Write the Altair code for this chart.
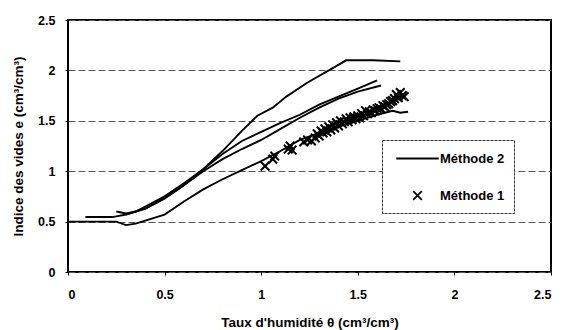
import altair as alt
import pandas as pd

# Méthode 2 curves (x = taux d'humidité, y = indice des vides)
curve_a_x = [0.09, 0.23, 0.30, 0.40, 0.50, 0.60, 0.70, 0.80, 0.90, 0.98, 1.06, 1.13, 1.24, 1.35, 1.44, 1.58, 1.72]
curve_a_y = [0.545, 0.545, 0.57, 0.63, 0.73, 0.86, 1.02, 1.20, 1.40, 1.55, 1.63, 1.74, 1.88, 2.00, 2.10, 2.10, 2.09]

curve_b_x = [0.25, 0.30, 0.35, 0.40, 0.50, 0.60, 0.70, 0.80, 0.90, 1.00, 1.10, 1.20, 1.30, 1.40, 1.50, 1.60]
curve_b_y = [0.60, 0.58, 0.60, 0.65, 0.75, 0.88, 1.02, 1.17, 1.30, 1.39, 1.48, 1.56, 1.66, 1.74, 1.82, 1.90]

curve_c_x = [0.30, 0.40, 0.50, 0.60, 0.70, 0.80, 0.90, 1.00, 1.10, 1.20, 1.30, 1.40, 1.50, 1.62]
curve_c_y = [0.57, 0.63, 0.73, 0.86, 1.00, 1.12, 1.22, 1.31, 1.42, 1.53, 1.63, 1.72, 1.79, 1.85]

curve_d_x = [0.00, 0.25, 0.30, 0.35, 0.40, 0.50, 0.60, 0.70, 0.80, 0.90, 1.00, 1.10, 1.20, 1.30, 1.40, 1.50, 1.60, 1.68, 1.72, 1.76]
curve_d_y = [0.50, 0.50, 0.465, 0.48, 0.51, 0.57, 0.70, 0.82, 0.92, 1.01, 1.10, 1.20, 1.31, 1.38, 1.44, 1.50, 1.56, 1.60, 1.58, 1.59]

# Méthode 1 points
m1_x = [1.02, 1.06, 1.07, 1.14, 1.15, 1.16, 1.22, 1.24, 1.26, 1.28, 1.29, 1.30, 1.31, 1.32, 1.33, 1.34,
        1.35, 1.36, 1.37, 1.38, 1.39, 1.40, 1.41, 1.42, 1.43, 1.44, 1.45, 1.46, 1.47, 1.48, 1.49, 1.50,
        1.51, 1.52, 1.53, 1.54, 1.55, 1.56, 1.57, 1.58, 1.59, 1.60, 1.61, 1.62, 1.63, 1.64, 1.65, 1.66,
        1.67, 1.68, 1.69, 1.70, 1.71, 1.72, 1.73, 1.74]
m1_y = [1.05, 1.12, 1.15, 1.22, 1.25, 1.21, 1.29, 1.31, 1.30, 1.33, 1.37, 1.35, 1.40, 1.38, 1.42, 1.39,
        1.44, 1.41, 1.46, 1.43, 1.48, 1.45, 1.50, 1.47, 1.49, 1.52, 1.49, 1.53, 1.51, 1.54, 1.52, 1.55,
        1.53, 1.57, 1.55, 1.60, 1.57, 1.59, 1.58, 1.61, 1.60, 1.62, 1.63, 1.62, 1.65, 1.64, 1.66, 1.67,
        1.69, 1.70, 1.72, 1.76, 1.73, 1.78, 1.75, 1.74]

legend_labels = ["Méthode 2", "Méthode 1"]
x_ticks = [0, 0.5, 1, 1.5, 2, 2.5]
y_ticks = [0, 0.5, 1, 1.5, 2, 2.5]

rows = []
for cid, xs, ys in [("A", curve_a_x, curve_a_y), ("B", curve_b_x, curve_b_y),
                    ("C", curve_c_x, curve_c_y), ("D", curve_d_x, curve_d_y)]:
    for i, (xv, yv) in enumerate(zip(xs, ys)):
        rows.append({"curve": cid, "i": i, "x": xv, "y": yv})
lines_df = pd.DataFrame(rows)
pts_df = pd.DataFrame({"x": m1_x, "y": m1_y, "method": "Méthode 1"})

FONT = "Liberation Sans"

xscale = alt.Scale(domain=[0, 2.5], nice=False)
yscale = alt.Scale(domain=[0, 2.5], nice=False)

xaxis = alt.Axis(values=x_ticks, title="Taux d'humidité θ (cm³/cm³)", grid=False,
                 labelExpr="datum.value", tickSize=3, labelPadding=13, titlePadding=15,
                 domain=False)
yaxis = alt.Axis(values=y_ticks, title="Indice des vides e (cm³/cm³)", tickSize=3,
                 labelExpr="datum.value", labelPadding=10, titlePadding=12, domain=False,
                 gridColor="#555555", gridDash=[7, 3], gridWidth=1)

lines = alt.Chart(lines_df).mark_line(color="black", strokeWidth=1.9).encode(
    x=alt.X("x:Q", scale=xscale, axis=xaxis),
    y=alt.Y("y:Q", scale=yscale, axis=yaxis),
    detail="curve:N",
    order="i:Q",
)

cross_path = "M-1,-1L1,1M-1,1L1,-1"
stroke_path = "M-2.5,0L2.5,0"
points = alt.Chart(pts_df).mark_point(filled=False, color="black", strokeWidth=2, opacity=1).encode(
    x=alt.X("x:Q", scale=xscale),
    y=alt.Y("y:Q", scale=yscale),
    shape=alt.Shape("method:N",
                    scale=alt.Scale(domain=legend_labels, range=[stroke_path, cross_path]),
                    legend=alt.Legend(title=None)),
    size=alt.Size("method:N",
                  scale=alt.Scale(domain=legend_labels, range=[289, 75]),
                  legend=alt.Legend(title=None)),
)

chart = alt.layer(lines, points).properties(
    width=483, height=252,
    autosize=alt.AutoSizeParams(type="none"),
    padding={"left": 60, "top": 12, "right": 5, "bottom": 58},
).configure_view(
    stroke="black", strokeWidth=2
).configure_axis(
    labelFont=FONT, titleFont=FONT, labelFontWeight="bold", titleFontWeight="bold",
    labelFontSize=12.5, titleFontSize=13.5, labelColor="black", titleColor="black",
    tickColor="black",
).configure_legend(
    orient="none", legendX=314, legendY=120,
    strokeColor="#333333", strokeDash=[3, 1], fillColor="white",
    padding=9, rowPadding=21, labelOffset=13, symbolOffset=17,
    labelFont=FONT, labelFontWeight="bold", labelFontSize=13, labelColor="black",
    symbolStrokeColor="black", symbolStrokeWidth=1.8, symbolFillColor="transparent",
)

chart.save("out.html", embed_options={"renderer": "svg", "actions": False})
